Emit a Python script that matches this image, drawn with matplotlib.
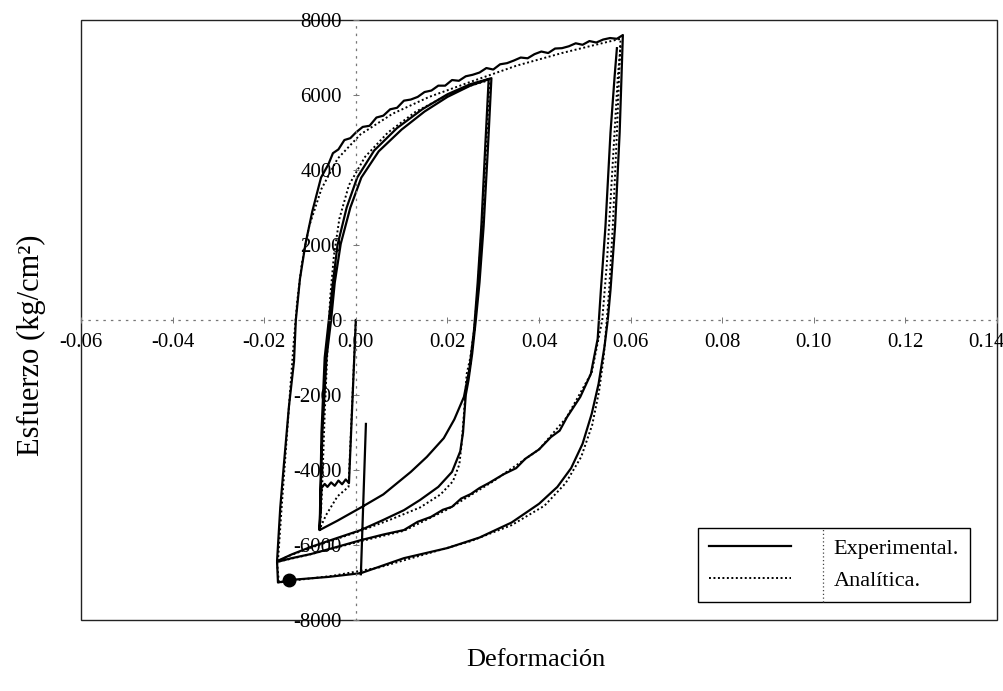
import numpy as np
import matplotlib.pyplot as plt
from matplotlib.patches import Rectangle
from matplotlib.ticker import FormatStrFormatter
from matplotlib.transforms import ScaledTranslation

plt.rcParams['font.family'] = ['Liberation Serif', 'DejaVu Serif']
plt.rcParams['axes.unicode_minus'] = False

nan = np.nan

# ============================================================
# Datos: deformación (-) y esfuerzo (kg/cm2)
# ============================================================

# Experimental (línea continua), trayectoria de carga con cortes nan
exp_strain = [
    # compresión inicial: elástico + escalón de fluencia
    0.0000, -0.0015, -0.0022, -0.0030, -0.0038, -0.0046, -0.0054, -0.0062, -0.0068, -0.0075, -0.0077, -0.0079,
    # recarga al primer pico
    -0.0073, -0.0064, -0.0054, -0.0046, -0.0033, -0.0012, 0.0012, 0.0050, 0.0100, 0.0150, 0.0200, 0.0250, 0.0290,
    # descarga al primer valle
    0.0282, 0.0274, 0.0266, 0.0258, 0.0248, 0.0236, 0.0215, 0.0192, 0.0155, 0.0120, 0.0060, 0.0011, -0.0040, -0.0079,
    # segunda recarga
    -0.0075, -0.0068, -0.0059, -0.0050, -0.0040, -0.0020, 0.0003, 0.0040, 0.0090, 0.0145, 0.0200, 0.0250, 0.0296,
    # descarga al segundo valle
    0.0288, 0.0279, 0.0270, 0.0262, 0.0254, 0.0246, 0.0240, 0.0234, 0.0228, 0.0210, 0.0180, 0.0140, 0.0105,
    0.0060, 0.0011, -0.0050, -0.0098, -0.0140, -0.0172,
    # recarga por la envolvente exterior hasta el segundo pico
    -0.0165, -0.0157, -0.0146, -0.0135, -0.0131, -0.0122, -0.0110, -0.0095, -0.0076, -0.0060, -0.0050, -0.0038,
    -0.0025, -0.0012, 0.0000, 0.0015, 0.0030, 0.0045, 0.0060, 0.0075, 0.0090, 0.0105, 0.0120, 0.0135, 0.0150,
    0.0165, 0.0180, 0.0195, 0.0210, 0.0225, 0.0240, 0.0255, 0.0270, 0.0285, 0.0300, 0.0315, 0.0330, 0.0345,
    0.0360, 0.0375, 0.0390, 0.0405, 0.0420, 0.0435, 0.0450, 0.0465, 0.0480, 0.0495, 0.0510, 0.0525, 0.0540,
    0.0555, 0.0570, 0.0583,
    # descarga hasta el valle mínimo
    0.0576, 0.0566, 0.0556, 0.0550, 0.0543, 0.0530, 0.0515, 0.0495, 0.0470, 0.0440, 0.0400, 0.0340, 0.0270,
    0.0200, 0.0105, 0.0011, -0.0060, -0.0142, -0.0170,
    # última rama
    -0.0172, -0.0140, -0.0098, -0.0050, 0.0011, 0.0060, 0.0105, 0.0135, 0.0164, 0.0190, 0.0210, 0.0230, 0.0251,
    0.0270, 0.0290, 0.0323, 0.0350, 0.0370, 0.0400, 0.0426, 0.0445, 0.0461, 0.0490, 0.0513, 0.0528, 0.0535,
    0.0545, 0.0556, 0.0565, 0.0570,
    nan,
    # trazo vertical cerca del origen
    0.0022, 0.0011,
]
exp_stress = [
    0, -4350, -4250, -4380, -4280, -4420, -4330, -4450, -4370, -4480, -5000, -5600,
    -3000, -1000, 0, 1000, 2030, 3000, 3800, 4500, 5080, 5560, 5950, 6250, 6420,
    4500, 2500, 1000, -270, -1300, -2050, -2650, -3150, -3650, -4050, -4650, -5000, -5350, -5600,
    -3000, -1000, 0, 1000, 2000, 3000, 3800, 4520, 5120, 5620, 6020, 6290, 6450,
    4500, 2500, 1000, 0, -900, -1600, -2000, -3000, -3500, -4050, -4450, -4800, -5070,
    -5330, -5600, -5850, -6050, -6250, -6430,
    -5000, -3840, -2300, -1100, 0, 1100, 2030, 2900, 3800, 4150, 4450, 4550,
    4800, 4850, 5000, 5150, 5180, 5400, 5450, 5620, 5660, 5850, 5880, 5950, 6080,
    6120, 6250, 6250, 6400, 6380, 6500, 6540, 6600, 6720, 6680, 6820, 6850, 6920,
    7000, 6980, 7090, 7160, 7120, 7240, 7250, 7300, 7380, 7340, 7440, 7400, 7480,
    7520, 7500, 7600,
    5000, 2500, 800, 0, -700, -1700, -2500, -3300, -3950, -4450, -4900, -5400, -5800,
    -6080, -6350, -6750, -6850, -6930, -7000,
    -6450, -6350, -6240, -6080, -5870, -5720, -5600, -5380, -5250, -5060, -4980, -4760, -4640,
    -4480, -4350, -4110, -3950, -3700, -3450, -3120, -2950, -2590, -2050, -1440, -500, 800,
    2500, 5000, 6500, 7250,
    nan,
    -2770, -6780,
]

# Analítica (línea punteada)
ana_strain = [
    0.0000, -0.0016, -0.0040, -0.0065, -0.0078,
    -0.0074, -0.0068, -0.0062, -0.0056, -0.0048, -0.0036, -0.0015, 0.0020, 0.0070, 0.0130, 0.0200, 0.0250, 0.0292,
    0.0284, 0.0275, 0.0266, 0.0258, 0.0250, 0.0242, 0.0236, 0.0231, 0.0226, 0.0212, 0.0185, 0.0140, 0.0080,
    0.0011, -0.0050, -0.0100, -0.0140, -0.0170,
    -0.0162, -0.0153, -0.0143, -0.0135, -0.0128, -0.0118, -0.0102, -0.0075, -0.0040, 0.0010, 0.0080, 0.0160,
    0.0250, 0.0350, 0.0450, 0.0520, 0.0578,
    0.0570, 0.0561, 0.0553, 0.0548, 0.0541, 0.0531, 0.0516, 0.0492, 0.0458, 0.0412, 0.0340, 0.0250, 0.0150,
    0.0050, -0.0050, -0.0140, -0.0168,
    -0.0172, -0.0100, 0.0010, 0.0105, 0.0200, 0.0300, 0.0400, 0.0460, 0.0515, 0.0538, 0.0548, 0.0560, 0.0572,
    0.0578,
]
ana_stress = [
    0, -4450, -4700, -5200, -5550,
    -4600, -2500, -800, 600, 1700, 2700, 3600, 4350, 5000, 5550, 6000, 6250, 6400,
    4500, 2500, 800, -300, -1000, -1440, -2500, -3300, -3850, -4300, -4650, -5000, -5300,
    -5620, -5870, -6080, -6260, -6420,
    -5000, -3500, -1800, -500, 500, 1500, 2500, 3500, 4300, 4950, 5500, 5950,
    6350, 6780, 7120, 7330, 7500,
    5000, 2500, 800, 0, -1000, -1900, -2800, -3650, -4350, -4950, -5470, -5900, -6250,
    -6600, -6820, -6950, -7000,
    -6450, -6250, -5900, -5620, -5050, -4300, -3450, -2600, -1400, 0, 1500, 4000, 6500,
    7300,
]

# punto marcado en la rama inferior
dot_strain = [-0.0146]
dot_stress = [-6930]

x_ticks = [-0.06, -0.04, -0.02, 0.00, 0.02, 0.04, 0.06, 0.08, 0.10, 0.12, 0.14]
y_ticks = [-8000, -6000, -4000, -2000, 0, 2000, 4000, 6000, 8000]

# ============================================================
# Gráfico
# ============================================================

fig = plt.figure(figsize=(10.04, 6.91), dpi=100)
ax = fig.add_axes([0.0807, 0.1027, 0.9124, 0.8683])

ax.plot(exp_strain, exp_stress, color='black', lw=1.6, label='Experimental.')
ax.plot(ana_strain, ana_stress, color='black', lw=1.4, ls=(0, (1, 1.3)), label='Analítica.')
ax.plot(dot_strain, dot_stress, 'o', color='black', ms=9)

ax.set_xlim(-0.06, 0.14)
ax.set_ylim(-8000, 8000)

# ejes centrados punteados
for side in ['left', 'bottom']:
    ax.spines[side].set_position(('data', 0))
    ax.spines[side].set_linestyle((0, (1, 5)))
    ax.spines[side].set_color('#777777')
    ax.spines[side].set_linewidth(0.9)
ax.spines['top'].set_visible(False)
ax.spines['right'].set_visible(False)

# marco exterior
ax.add_patch(Rectangle((0, 0), 1, 1, transform=ax.transAxes, fill=False,
                       ec='#222222', lw=1.0, clip_on=False, zorder=0))

ax.set_xticks(x_ticks)
ax.set_yticks(y_ticks)
ax.xaxis.set_major_formatter(FormatStrFormatter('%.2f'))
ax.tick_params(axis='both', direction='inout', length=4, width=0.7,
               colors='#777777', labelcolor='black', labelsize=15)
ax.tick_params(axis='x', pad=7)
ax.tick_params(axis='y', pad=8)

# la última etiqueta (0.14) se corre un poco a la izquierda, como en el original
last = ax.xaxis.get_major_ticks()[-1].label1
last.set_transform(last.get_transform() + ScaledTranslation(-11 / 100, 0, fig.dpi_scale_trans))

fig.text(0.031, 0.50, 'Esfuerzo (kg/cm²)', rotation=90, fontsize=22,
         ha='center', va='center')
fig.text(0.534, 0.045, 'Deformación', fontsize=19, ha='center', va='center')

leg = ax.legend(loc='lower right', bbox_to_anchor=(0.9705, 0.03), fontsize=16,
                frameon=True, fancybox=False, edgecolor='black', framealpha=1,
                handlelength=3.7, handletextpad=1.9, borderpad=0.5,
                labelspacing=0.5, borderaxespad=0)
leg.get_frame().set_linewidth(1.0)
leg.set_zorder(5)

fig.canvas.draw()
bb = leg.get_window_extent().transformed(ax.transAxes.inverted())
xdiv = bb.x0 + (bb.x1 - bb.x0) * 0.46
ax.plot([xdiv, xdiv], [bb.y0, bb.y1], transform=ax.transAxes, color='#444444',
        lw=0.9, ls=(0, (1, 2)), zorder=6, clip_on=False)

fig.savefig('out.png', dpi=100)
